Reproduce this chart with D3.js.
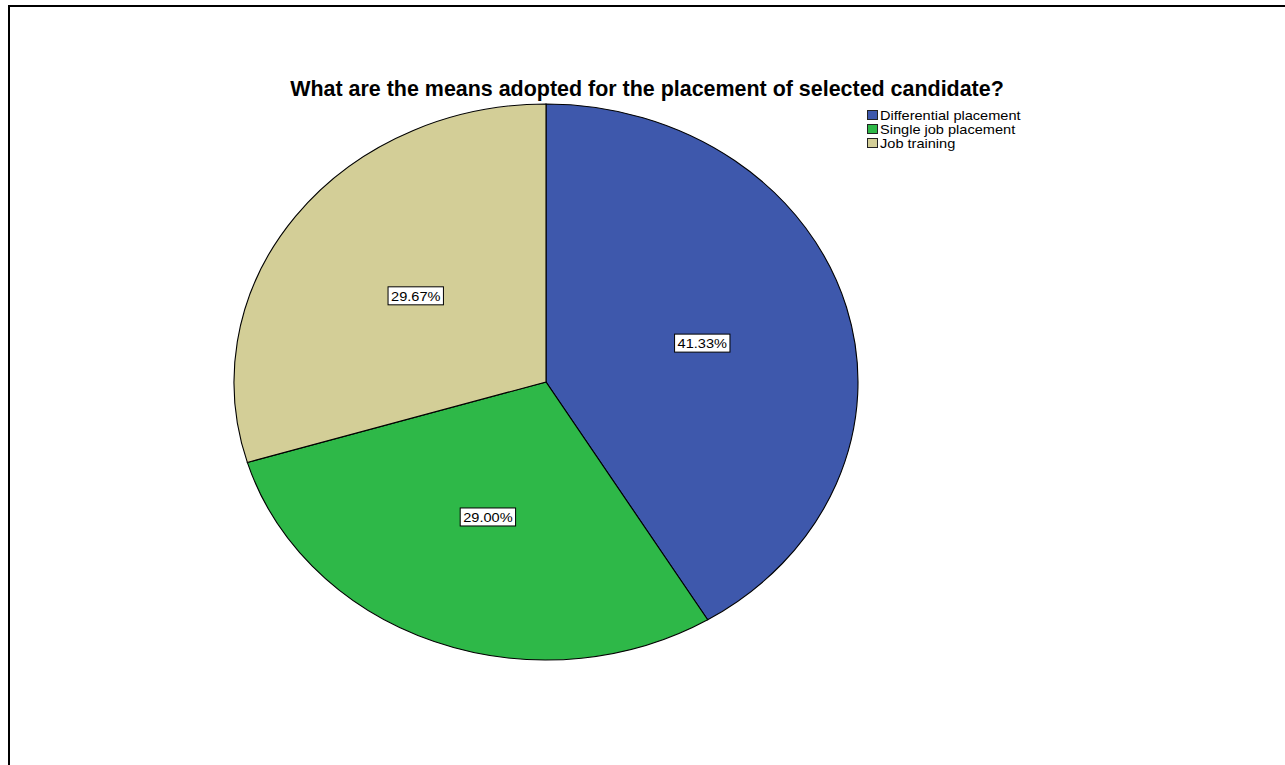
<!DOCTYPE html>
<html>
<head>
<meta charset="utf-8">
<script src="https://cdn.jsdelivr.net/npm/d3@7"></script>
<style>
  html, body { margin: 0; padding: 0; background: #fff; }
  svg { display: block; }
</style>
</head>
<body>
<svg id="chart" width="1285" height="765"></svg>
<script>
// Response categories and their shares (%)
const categories = ["Differential placement", "Single job placement", "Job training"];
const percents = [41.33, 29.00, 29.67];
const colors = ["#3E58AC", "#2EB848", "#D3CE97"];
const title = "What are the means adopted for the placement of selected candidate?";

const svg = d3.select("#chart");
const font = "Liberation Sans, Arial, sans-serif";
const widen = 1.12; // small-text horizontal widening

// Frame lines (left and top)
svg.append("path")
  .attr("d", "M9,765 V6 H1285")
  .attr("fill", "none")
  .attr("stroke", "#000")
  .attr("stroke-width", 2);

// Title, sized so it spans the intended width
const titleText = svg.append("text")
  .attr("x", 647)
  .attr("y", 96)
  .attr("text-anchor", "middle")
  .attr("font-family", font)
  .attr("font-weight", "bold")
  .attr("font-size", 17)
  .text(title);
const w0 = titleText.node().getComputedTextLength();
titleText.attr("font-size", 17 * 714 / w0);

// Elliptical pie: draw on a circle and stretch horizontally
const cx = 546, cy = 382, ry = 278, rx = 312;
const sx = rx / ry;

const pie = d3.pie().sort(null).value(d => d);
const arcs = pie(percents);
const arc = d3.arc().innerRadius(0).outerRadius(ry);

const g = svg.append("g")
  .attr("transform", `translate(${cx},${cy})`);

g.selectAll("path.slice")
  .data(arcs)
  .join("path")
  .attr("class", "slice")
  .attr("transform", `scale(${sx},1)`)
  .attr("d", arc)
  .attr("fill", (d, i) => colors[i])
  .attr("stroke", "#000")
  .attr("stroke-width", 1.1)
  .attr("vector-effect", "non-scaling-stroke");

// Value labels in white boxes
const labelArc = d3.arc().innerRadius(ry * 1.04).outerRadius(ry * 1.04);
const fmt = d => d.toFixed(2) + "%";

const labels = g.selectAll("g.lbl")
  .data(arcs)
  .join("g")
  .attr("class", "lbl")
  .attr("transform", d => {
    const [x, y] = labelArc.centroid(d);
    return `translate(${x * 0.5 * sx},${y * 0.5})`;
  });

labels.each(function(d) {
  const sel = d3.select(this);
  const t = sel.append("text")
    .attr("text-anchor", "middle")
    .attr("dy", "0.36em")
    .attr("font-family", font)
    .attr("font-size", 13)
    .attr("fill", "#000")
    .text(fmt(d.data));
  const w = t.node().getComputedTextLength() * widen;
  t.attr("textLength", w).attr("lengthAdjust", "spacingAndGlyphs");
  sel.insert("rect", "text")
    .attr("x", -w / 2 - 3)
    .attr("y", -9)
    .attr("width", w + 6)
    .attr("height", 18)
    .attr("fill", "#fff")
    .attr("stroke", "#000")
    .attr("stroke-width", 1);
});

// Legend
const legend = svg.append("g").attr("transform", "translate(867,110)");
const rows = legend.selectAll("g")
  .data(categories)
  .join("g")
  .attr("transform", (d, i) => `translate(0,${i * 14})`);

rows.append("rect")
  .attr("x", 0.5)
  .attr("y", 0.5)
  .attr("width", 10)
  .attr("height", 9)
  .attr("fill", (d, i) => colors[i])
  .attr("stroke", "#222")
  .attr("stroke-width", 1);

rows.append("text")
  .attr("x", 13)
  .attr("y", 10)
  .attr("font-family", font)
  .attr("font-size", 13)
  .attr("fill", "#000")
  .text(d => d)
  .each(function() {
    const n = this.getComputedTextLength();
    d3.select(this).attr("textLength", n * widen).attr("lengthAdjust", "spacingAndGlyphs");
  });
</script>
</body>
</html>
